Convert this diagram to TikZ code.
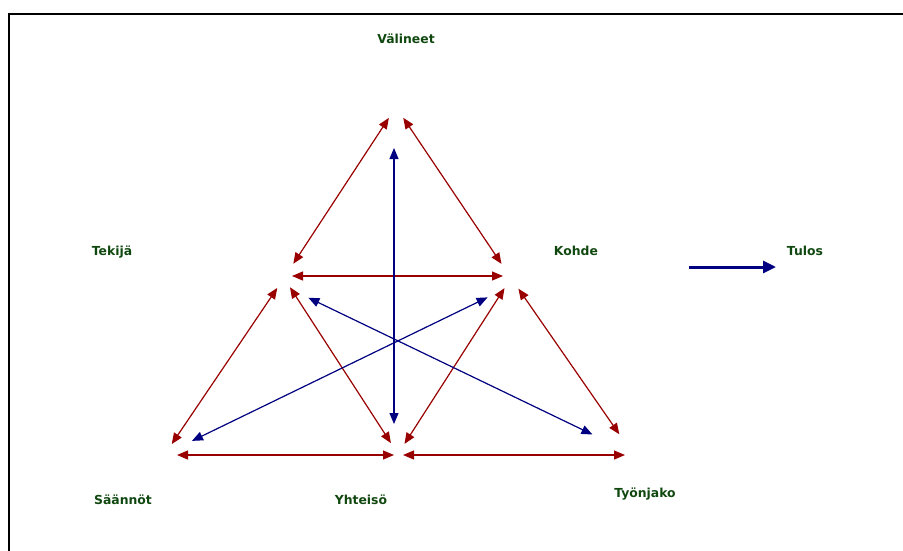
\documentclass[tikz,border=0pt]{standalone}
\usepackage{fontspec}
\setmainfont{DejaVu Sans}
\usetikzlibrary{arrows.meta}

\definecolor{punainen}{RGB}{153,0,0}
\definecolor{sininen}{RGB}{0,0,128}
\definecolor{vihrea}{RGB}{16,72,16}

\begin{document}
\begin{tikzpicture}[
    x=1pt, y=-1pt,
    label_node/.style={anchor=base, inner sep=0pt, font=\fontsize{12.4}{14}\selectfont\bfseries, text=vihrea},
    red_edge/.style={{Triangle[length=11pt,width=9pt]}-{Triangle[length=11pt,width=9pt]}, line width=1.2pt, color=punainen},
    blue_edge/.style={{Triangle[length=11pt,width=9pt]}-{Triangle[length=11pt,width=9pt]}, line width=1.2pt, color=sininen},
    result_edge/.style={-{Triangle[length=13pt,width=12pt]}, line width=3pt, color=sininen}
]
\useasboundingbox (0,0) rectangle (903,550);

% Kehys
\draw[line width=2pt] (906,14) -| (9,553);

% Kulmat
\coordinate (V) at (396,107);
\coordinate (T) at (284,278);
\coordinate (K) at (511,278);
\coordinate (S) at (165,454);
\coordinate (Y) at (398,454);
\coordinate (J) at (633,454);
\coordinate (tulosA) at (689,267);
\coordinate (tulosB) at (776,267);

% Tekstit
\node[label_node] (valineet) at (406,43) {Välineet};
\node[label_node] (tekija) at (112,255) {Tekijä};
\node[label_node] (kohde) at (576,255) {Kohde};
\node[label_node] (tulos) at (805,255) {Tulos};
\node[label_node] (saannot) at (123,504) {Säännöt};
\node[label_node] (yhteiso) at (361,504) {Yhteisö};
\node[label_node] (tyonjako) at (645,497) {Työnjako};

% Punaiset nuolet
\draw[red_edge, shorten <=13pt, shorten >=17pt] (V) -- (T);
\draw[red_edge, shorten <=13pt, shorten >=17pt] (V) -- (K);
\draw[red_edge, shorten <=8pt, shorten >=8pt] ([yshift=2pt]T) -- ([yshift=2pt]K);
\draw[red_edge, shorten <=12pt, shorten >=12pt] (T) -- (S);
\draw[red_edge, shorten <=11pt, shorten >=13pt] (T) -- (Y);
\draw[red_edge, shorten <=12pt, shorten >=12pt] (K) -- (Y);
\draw[red_edge, shorten <=13pt, shorten >=24pt] (K) -- (J);
\draw[red_edge, shorten <=12pt, shorten >=4pt] ([yshift=-1pt]S) -- ([yshift=-1pt]Y);
\draw[red_edge, shorten <=5pt, shorten >=8pt] ([yshift=-1pt]Y) -- ([yshift=-1pt]J);

% Siniset nuolet
\draw[blue_edge, shorten <=41pt, shorten >=30pt] ([xshift=-2pt]V) -- ([xshift=-4pt]Y);
\draw[blue_edge, shorten <=27pt, shorten >=45pt] ([yshift=-8pt]T) -- (J);
\draw[blue_edge, shorten <=26pt, shorten >=30pt] ([yshift=-8pt]K) -- (S);

% Tulos
\draw[result_edge] (tulosA) -- (tulosB);

\end{tikzpicture}
\end{document}
